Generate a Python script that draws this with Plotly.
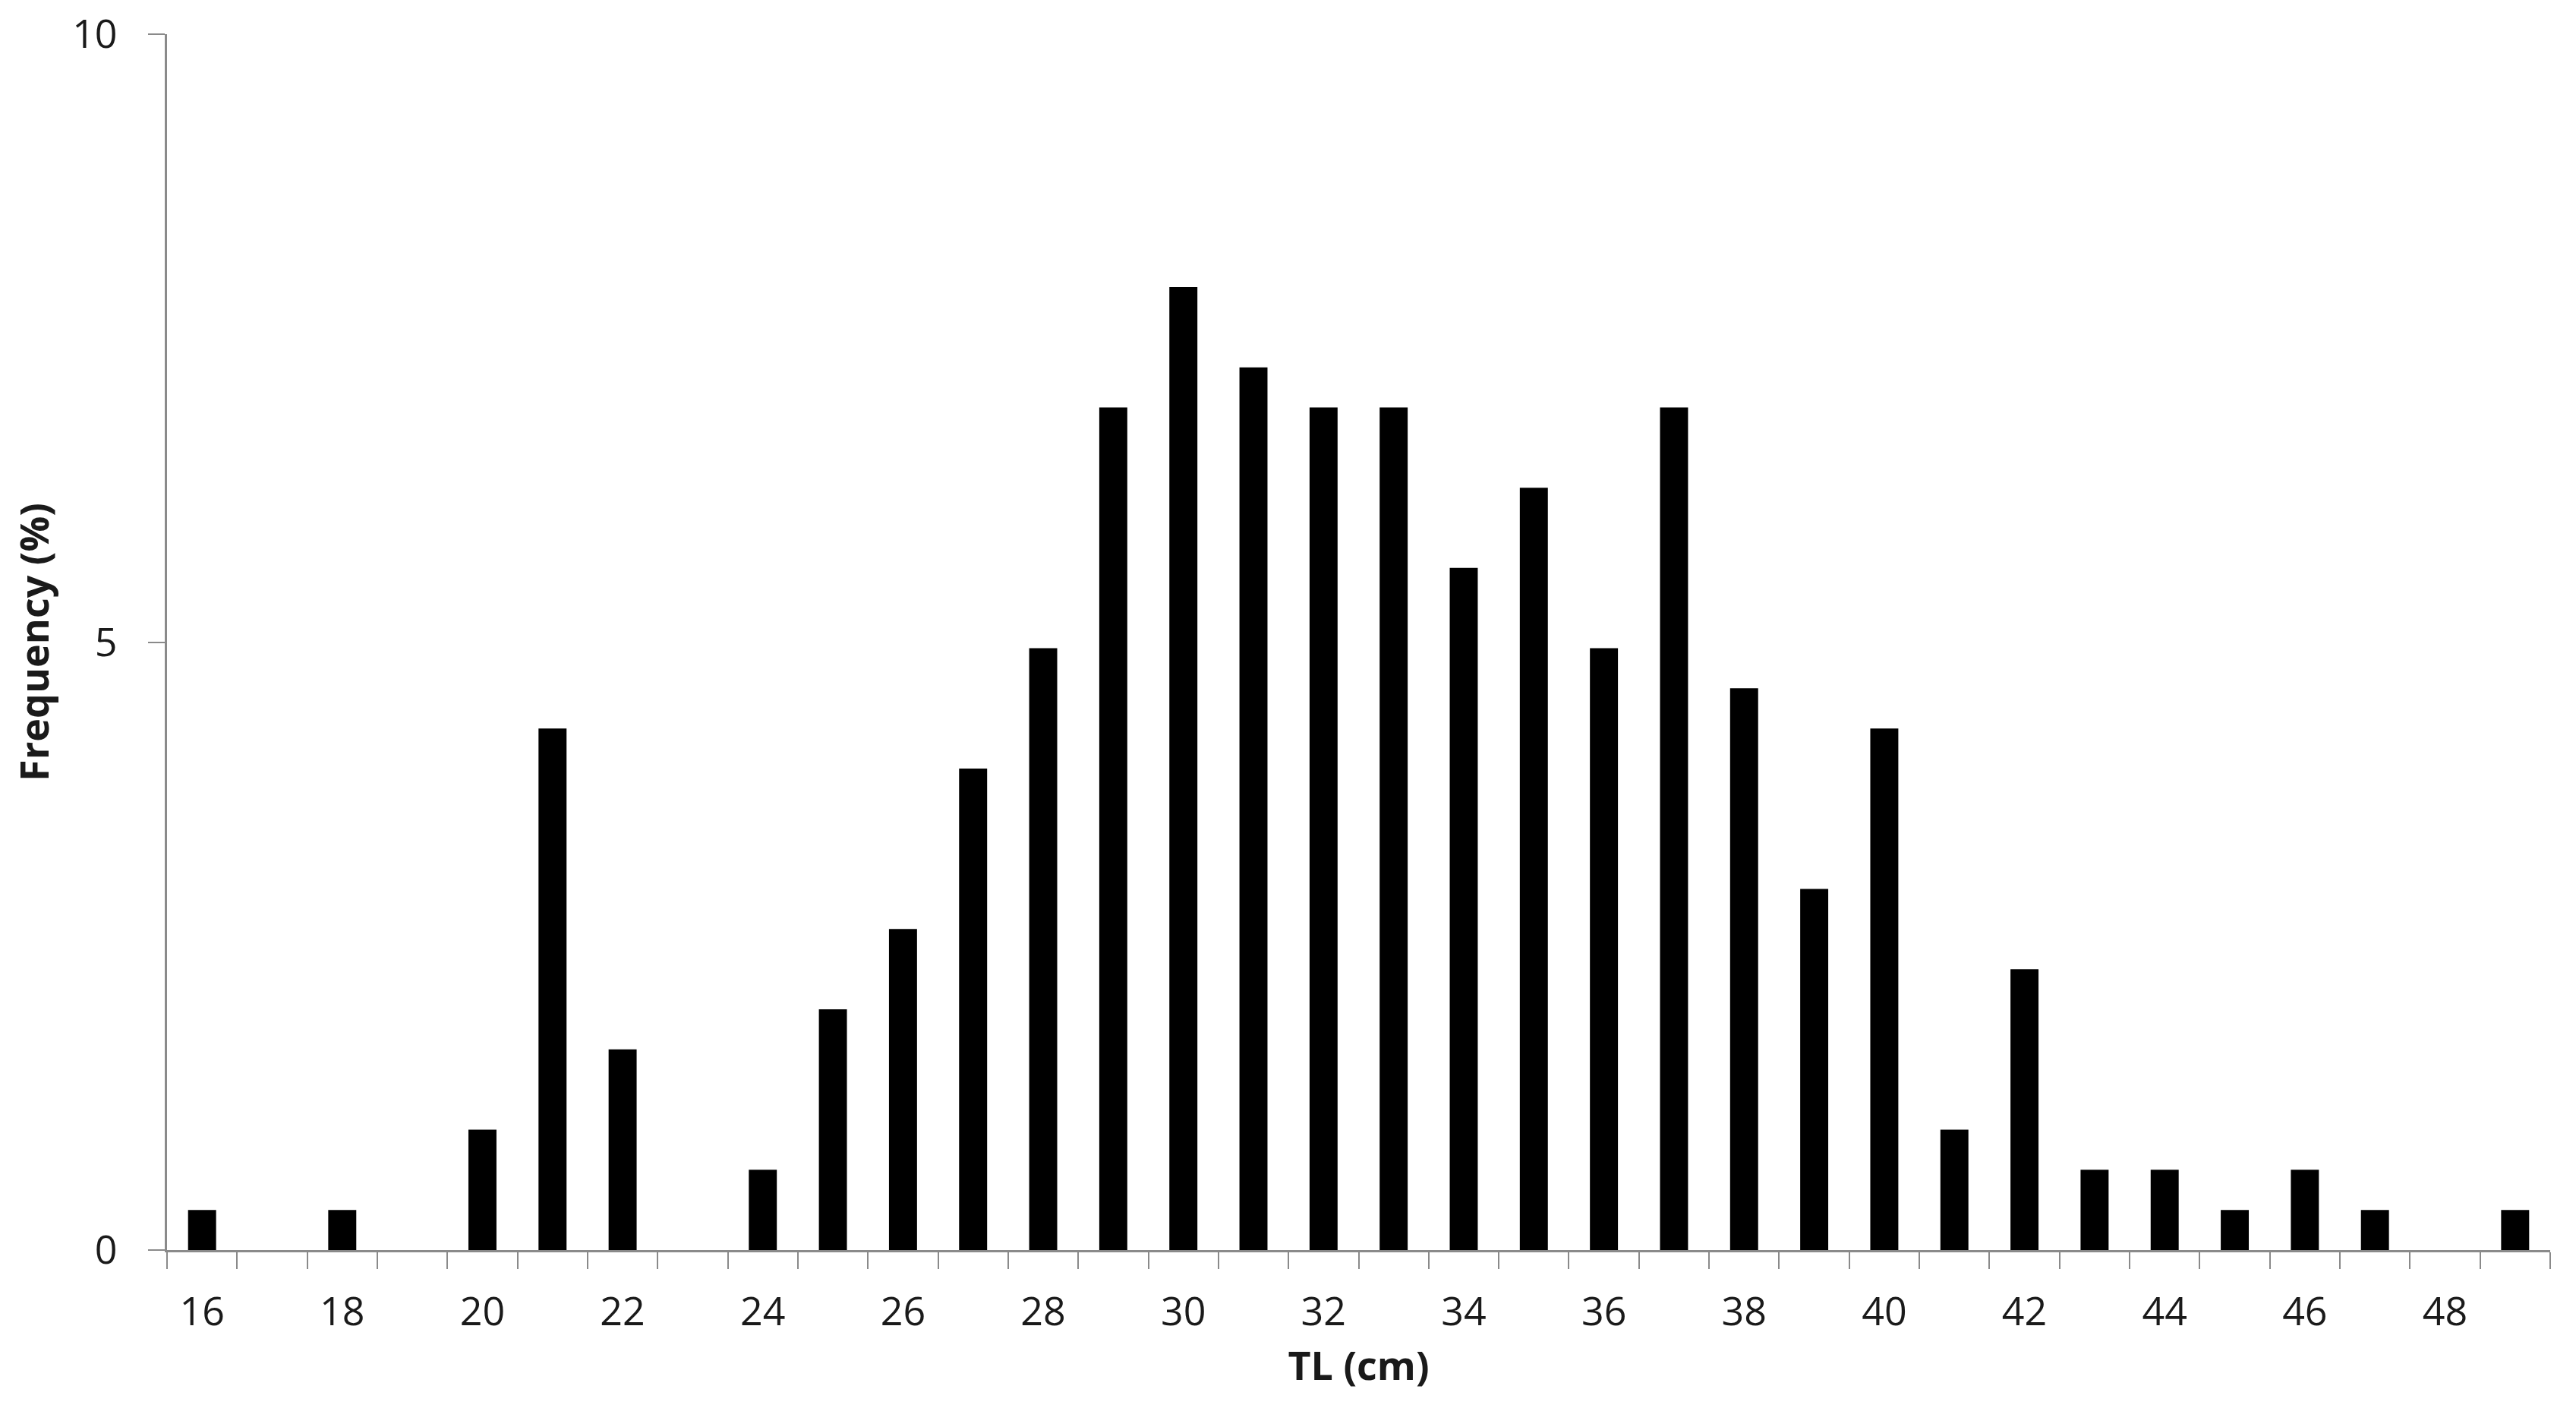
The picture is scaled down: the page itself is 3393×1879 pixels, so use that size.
import plotly.graph_objects as go

# TL size classes (cm) and frequency (%)
tl_cm = list(range(16, 50))
freq_pct = [0.33, 0, 0.33, 0, 0.99, 4.29, 1.65, 0, 0.66, 1.98,
            2.64, 3.96, 4.95, 6.93, 7.92, 7.26, 6.93, 6.93, 5.61, 6.27,
            4.95, 6.93, 4.62, 2.97, 4.29, 0.99, 2.31, 0.66, 0.66, 0.33,
            0.66, 0.33, 0, 0.33]
x_ticks = list(range(16, 49, 2))
y_ticks = [0, 5, 10]

axis_grey = "#8a8a8a"
font_family = "Open Sans"

fig = go.Figure(go.Bar(
    x=tl_cm,
    y=freq_pct,
    width=0.4,
    marker=dict(color="black", line=dict(width=0)),
))

# page body adds 8px margin, so the figure is 8px smaller than the window
fig.update_layout(
    width=3385,
    height=1871,
    margin=dict(l=212, r=34, t=37, b=233),
    plot_bgcolor="white",
    paper_bgcolor="white",
    showlegend=False,
    font=dict(family=font_family, color="#1a1a1a", size=52),
)

fig.update_xaxes(
    range=[15.5, 49.5],
    tickvals=x_ticks,
    ticks="",
    ticklabelstandoff=34,
    automargin=False,
    showgrid=False,
    zeroline=False,
    showline=True,
    linecolor=axis_grey,
    linewidth=3,
    minor=dict(ticks="outside", tick0=15.5, dtick=1, ticklen=22,
               tickcolor=axis_grey, tickwidth=2, showgrid=False),
    title=dict(text="<b>TL (cm)</b>", standoff=22,
               font=dict(family=font_family, size=52, color="#1a1a1a")),
)

fig.update_yaxes(
    range=[0, 10],
    tickvals=y_ticks,
    ticks="outside",
    ticklen=22,
    tickwidth=2,
    tickcolor=axis_grey,
    ticklabelstandoff=30,
    ticklabeloverflow="allow",
    automargin=False,
    showgrid=False,
    zeroline=False,
    showline=True,
    linecolor=axis_grey,
    linewidth=3,
    title=dict(text="<b>Frequency (%)</b>", standoff=22,
               font=dict(family=font_family, size=52, color="#1a1a1a")),
)

fig.write_html("out.html")
